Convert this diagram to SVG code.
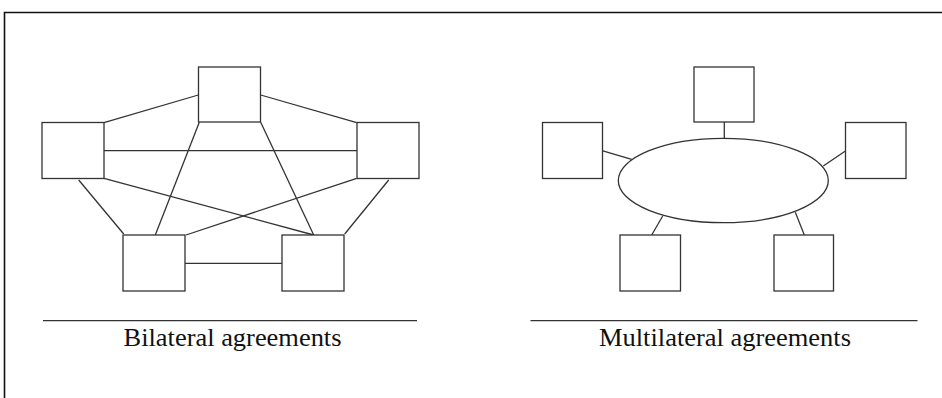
<svg xmlns="http://www.w3.org/2000/svg" width="942" height="398" viewBox="0 0 942 398">
<style>
.box{fill:#fff;stroke:#333;stroke-width:1.3}
.ln{stroke:#333;stroke-width:1.3;fill:none}
.lbl{font-family:"Liberation Serif","Times New Roman",serif;font-size:25px;fill:#111;text-anchor:middle}
</style>
<rect width="942" height="398" fill="#fff"/>
<path d="M4.5,398 V12.5 H942" fill="none" stroke="#111" stroke-width="1.6"/>
<g id="connectors">
<line class="ln" x1="104" y1="122.7" x2="198.3" y2="95"/>
<line class="ln" x1="260.7" y1="95" x2="356.7" y2="122.7"/>
<line class="ln" x1="104" y1="150.7" x2="357" y2="150.7"/>
<line class="ln" x1="199.3" y1="122.3" x2="155.3" y2="235"/>
<line class="ln" x1="260.7" y1="122.3" x2="313.7" y2="235"/>
<line class="ln" x1="104" y1="178.3" x2="313.7" y2="235"/>
<line class="ln" x1="356.7" y1="178.3" x2="186" y2="235"/>
<line class="ln" x1="78.7" y1="180" x2="123.7" y2="234"/>
<line class="ln" x1="388.7" y1="180" x2="344.7" y2="234"/>
<line class="ln" x1="185" y1="263.3" x2="282" y2="263.3"/>
<line class="ln" x1="724.3" y1="122" x2="724.3" y2="138.5"/>
<line class="ln" x1="602" y1="150.7" x2="631.7" y2="159.3"/>
<line class="ln" x1="823.3" y1="166" x2="845" y2="151.3"/>
<line class="ln" x1="662.7" y1="216" x2="651.7" y2="235"/>
<line class="ln" x1="795.3" y1="212.3" x2="804.3" y2="235"/>
</g>
<g id="b-top"><rect class="box" x="198.5" y="67" width="62" height="55"/></g>
<g id="b-left"><rect class="box" x="42" y="122.5" width="62" height="56"/></g>
<g id="b-right"><rect class="box" x="357" y="122.5" width="62" height="56"/></g>
<g id="b-bl"><rect class="box" x="123" y="235" width="62" height="56"/></g>
<g id="b-br"><rect class="box" x="282" y="235" width="62" height="56"/></g>
<g id="m-center"><ellipse class="box" cx="723.3" cy="180.5" rx="105" ry="42.2"/></g>
<g id="m-top"><rect class="box" x="694" y="67" width="60" height="55"/></g>
<g id="m-left"><rect class="box" x="542.5" y="122.5" width="60" height="56"/></g>
<g id="m-right"><rect class="box" x="845.5" y="122.5" width="60.5" height="56"/></g>
<g id="m-bl"><rect class="box" x="620" y="235" width="60.5" height="56"/></g>
<g id="m-br"><rect class="box" x="774" y="235" width="59.5" height="56"/></g>
<g id="captions">
<line class="ln" x1="43" y1="320.7" x2="417" y2="320.7"/>
<line class="ln" x1="530.5" y1="320.7" x2="917.5" y2="320.7"/>
<text class="lbl" x="232.5" y="345.5" textLength="218" lengthAdjust="spacingAndGlyphs">Bilateral agreements</text>
<text class="lbl" x="725" y="345.5" textLength="252" lengthAdjust="spacingAndGlyphs">Multilateral agreements</text>
</g>
</svg>
